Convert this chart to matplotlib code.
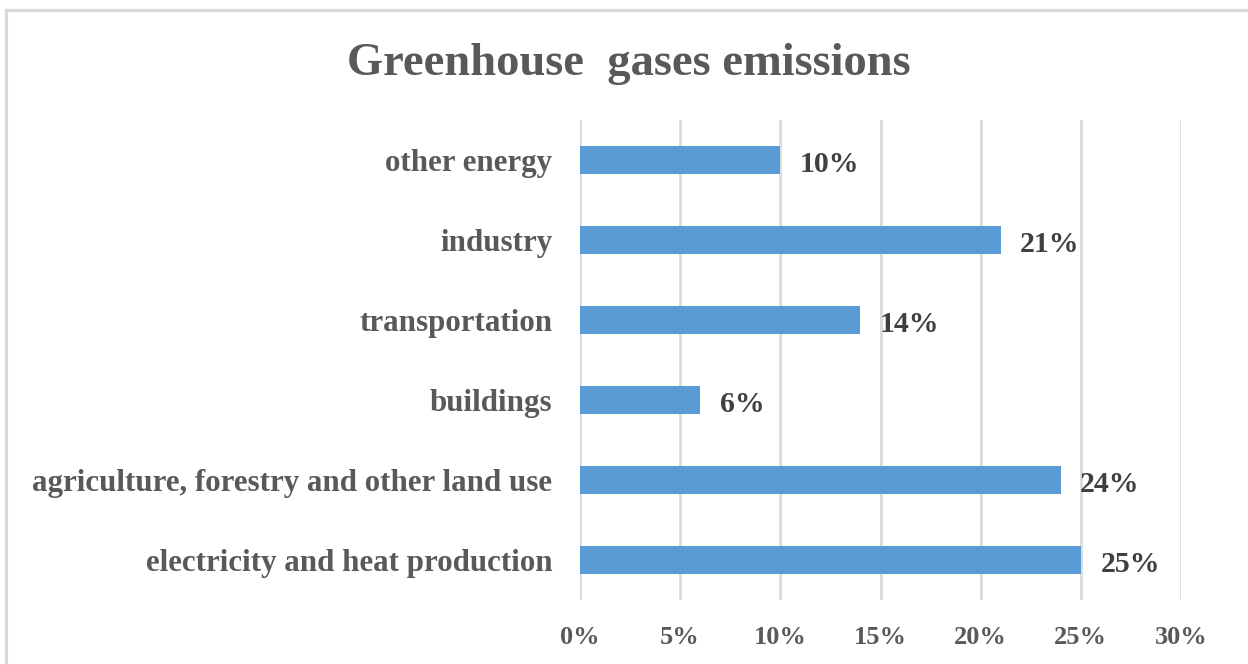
import matplotlib
matplotlib.use("Agg")
import matplotlib.pyplot as plt
from matplotlib.lines import Line2D
from matplotlib.ticker import FuncFormatter

categories = ["electricity and heat production",
              "agriculture, forestry and other land use",
              "buildings", "transportation", "industry", "other energy"]
values = [25, 24, 6, 14, 21, 10]
xticks = [0, 5, 10, 15, 20, 25, 30]
title = "Greenhouse  gases emissions"

plt.rcParams['font.family'] = ['Liberation Serif', 'DejaVu Serif']
plt.rcParams['font.weight'] = 'bold'

W, H = 1248, 664
fig = plt.figure(figsize=(W / 100, H / 100), dpi=100)
fig.patch.set_facecolor('white')

ax = fig.add_axes([580 / W, 1 - 600 / H, (1181 - 580) / W, 480 / H])
ypos = list(range(len(categories)))
ax.barh(ypos, values, height=0.34, color='#5B9BD5', zorder=3)
ax.set_ylim(-0.5, len(categories) - 0.5)
ax.set_xlim(0, 30)
ax.set_xticks(xticks)
ax.xaxis.set_major_formatter(FuncFormatter(lambda v, p: f"{v:.0f}%"))
ax.set_yticks(ypos)
ax.set_yticklabels(categories)
ax.tick_params(axis='y', length=0, pad=20, labelsize=22.3, labelcolor='#595959')
ax.tick_params(axis='x', length=0, pad=19, labelsize=19, labelcolor='#595959')
for lab in ax.get_xticklabels() + ax.get_yticklabels():
    lab.set_fontweight('bold')
ax.grid(axis='x', color='#D9D9D9', linewidth=1.9, zorder=0)
ax.grid(axis='y', visible=False)
for s in ax.spines.values():
    s.set_visible(False)

for y, v in zip(ypos, values):
    ax.annotate(f"{v}%", xy=(v, y), xytext=(14, -3), textcoords='offset points',
                ha='left', va='center', fontsize=21.5, fontweight='bold', color='#404040')

fig.text(629 / W, 1 - 64 / H, title, ha='center', va='center', fontsize=33.5,
         fontweight='bold', color='#595959')

# chart area frame (cropped at right and bottom)
fc = '#D9D9D9'
fig.add_artist(Line2D([6 / W, 6 / W], [0, 1 - 9.5 / H], transform=fig.transFigure,
                      color=fc, linewidth=2.3))
fig.add_artist(Line2D([6 / W, 1], [1 - 9.5 / H, 1 - 9.5 / H], transform=fig.transFigure,
                      color=fc, linewidth=2.3))

fig.savefig("out.png", dpi=100, facecolor='white')
